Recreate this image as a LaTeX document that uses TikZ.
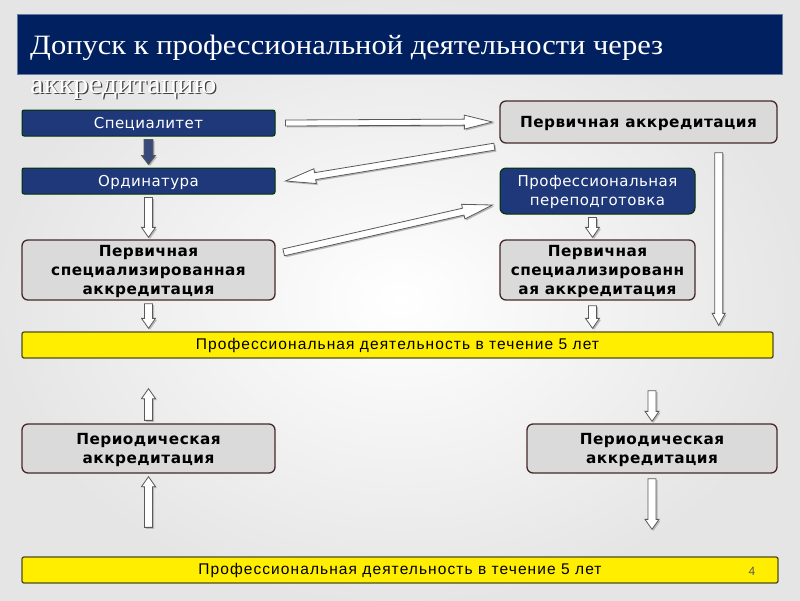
\documentclass[tikz,border=0pt]{standalone}
\usepackage{fontspec}
\setmainfont[LetterSpace=3]{DejaVu Sans}
\newfontfamily\titlefont{Liberation Serif}
\newfontfamily\barfont[LetterSpace=7]{Liberation Sans}
\usetikzlibrary{calc}

\definecolor{titlenavy}{RGB}{0,32,96}
\definecolor{boxnavy}{RGB}{31,56,122}
\definecolor{boxgray}{RGB}{218,218,218}
\definecolor{boxedge}{RGB}{70,40,40}
\definecolor{baryellow}{RGB}{255,238,0}
\definecolor{baredge}{RGB}{80,76,30}

\tikzset{
  navybox/.style={draw=black!80!green, line width=1pt, fill=boxnavy, rounded corners=2pt,
    text=white, font=\fontsize{15}{19}\selectfont, inner sep=0pt, align=center, text depth=0pt},
  graybox/.style={draw=boxedge, line width=1.3pt, fill=boxgray, rounded corners=6pt,
    font=\bfseries\fontsize{15.3}{19}\selectfont, inner sep=0pt, align=center, text depth=0pt},
  yellowbar/.style={draw=baredge, line width=1.3pt, fill=baryellow, rounded corners=2pt,
    font=\barfont\fontsize{15.5}{18}\selectfont, inner sep=0pt},
  titletext/.style={anchor=base west, font=\titlefont\fontsize{28}{32}\selectfont, inner sep=0pt},
  arrowface/.style={fill=white, draw=gray!70!black, line width=0.8pt},
  arrowshade/.style={fill=gray!55},
}

% hollow block arrow: [fill] half shaft, half head, head length, from, to
\newcommand\blockarrow[6][white]{%
  \coordinate (ba-s) at (#5);
  \coordinate (ba-e) at (#6);
  \coordinate (ba-h) at ($(ba-e)!#4!(ba-s)$);
  \def\bapath{($(ba-s)!#2!90:(ba-e)$) -- ($(ba-h)!#2!90:(ba-e)$) -- ($(ba-h)!#3!90:(ba-e)$)
    -- (ba-e) -- ($(ba-h)!#3!-90:(ba-e)$) -- ($(ba-h)!#2!-90:(ba-e)$) -- ($(ba-s)!#2!-90:(ba-e)$) -- cycle}
  \begin{scope}[transform canvas={shift={(1.5pt,-1.5pt)}}]
    \fill[arrowshade] \bapath;
  \end{scope}
  \filldraw[arrowface, fill=#1] \bapath;
}

\begin{document}
\begin{tikzpicture}[x=1pt, y=-1pt]
  % background
  \shade[inner color=white, outer color=gray!20] (0,0) rectangle (800,600);
  \useasboundingbox (0,0) rectangle (800,600);

  % title
  \filldraw[fill=titlenavy, draw=titlenavy!60!white, line width=1pt] (17,14) rectangle (782,74);
  \node[titletext, text=white] (title) at (30,54)
    {\scalebox{1.09}[1]{Допуск к профессиональной деятельности через}};
  \node[titletext, text=gray!50!black] (title2s) at (31.3,94.3) {\scalebox{1.09}[1]{аккредитацию}};
  \node[titletext, text=white] (title2) at (30,93) {\scalebox{1.09}[1]{аккредитацию}};

  % left column
  \node[navybox, minimum width=253, minimum height=26] (spec) at (148.5,123) {Специалитет};
  \node[navybox, minimum width=253, minimum height=26] (ord) at (148.5,181) {Ординатура};
  \node[graybox, minimum width=253, minimum height=60] (lspec) at (148.5,270)
    {Первичная\\специализированная\\аккредитация};

  % right column
  \node[graybox, minimum width=277, minimum height=42] (prim) at (638.5,122) {Первичная аккредитация};
  \node[navybox, rounded corners=6pt, minimum width=195, minimum height=46] (prof) at (597.5,191)
    {Профессиональная\\переподготовка};
  \node[graybox, minimum width=195, minimum height=60] (rspec) at (597.5,270)
    {Первичная\\специализированн\\ая аккредитация};

  % activity bars
  \node[yellowbar, minimum width=751, minimum height=26] (bar1) at (397.5,345)
    {Профессиональная деятельность в течение 5 лет};
  \node[yellowbar, minimum width=756, minimum height=26] (bar2) at (400,570)
    {Профессиональная деятельность в течение 5 лет};
  \node[text=gray!70!black, font=\barfont\fontsize{12}{14}\selectfont] (pnum) at (752,571) {4};

  % periodic accreditation
  \node[graybox, minimum width=253, minimum height=49] (lper) at (148.5,448.5)
    {Периодическая\\аккредитация};
  \node[graybox, minimum width=250, minimum height=49] (rper) at (652,448.5)
    {Периодическая\\аккредитация};

  % arrows
  \blockarrow[boxnavy!75!gray]{4.5pt}{7pt}{9pt}{$(spec.south)+(0,3)$}{$(ord.north)+(0,-3)$}
  \blockarrow{4pt}{7pt}{10pt}{$(ord.south)+(0,3)$}{$(lspec.north)+(0,-2)$}
  \blockarrow{4pt}{7pt}{10pt}{$(lspec.south)+(0,3)$}{$(bar1.north)+(-249,-3)$}
  \blockarrow{3pt}{7pt}{28pt}{$(spec.east)+(10,0)$}{$(prim.west)+(-7,0)$}
  \blockarrow{3.5pt}{7.5pt}{30pt}{$(prim.south west)+(-5,3)$}{$(ord.east)+(10,0)$}
  \blockarrow{3.5pt}{7.5pt}{30pt}{$(lspec.north east)+(8,13)$}{$(prof.west)+(-7,14)$}
  \blockarrow{4pt}{7pt}{10pt}{$(prof.south)+(-5,3)$}{$(rspec.north)+(-5,-2)$}
  \blockarrow{4pt}{7pt}{10pt}{$(rspec.south)+(-5,5)$}{$(rspec.south |- bar1.north)+(-5,-3)$}
  \coordinate (vtop) at ($(prim.south east)+(-59,9)$);
  \blockarrow{4pt}{6.5pt}{12pt}{vtop}{$(vtop |- bar1.north)+(0,-6)$}
  \blockarrow{4pt}{7pt}{10pt}{$(lper.north)+(0,-3)$}{$(lper.north |- bar1.south)+(0,30)$}
  \blockarrow{4pt}{7pt}{10pt}{$(rper.north |- bar1.south)+(0,32)$}{$(rper.north)+(0,-2)$}
  \blockarrow{4pt}{7pt}{10pt}{$(lper.south |- bar2.north)+(0,-29)$}{$(lper.south)+(0,3)$}
  \blockarrow{4pt}{7pt}{10pt}{$(rper.south)+(0,5)$}{$(rper.south |- bar2.north)+(0,-27)$}
\end{tikzpicture}
\end{document}
